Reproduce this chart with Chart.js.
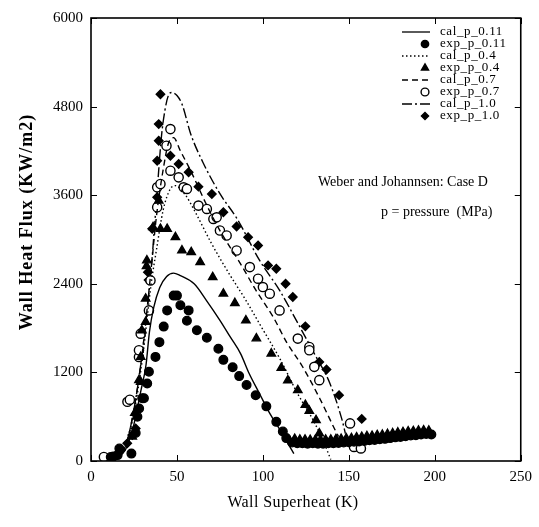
<!DOCTYPE html>
<html>
<head>
<meta charset="utf-8">
<script src="https://cdn.jsdelivr.net/npm/chart.js@4.4.1/dist/chart.umd.min.js"></script>
<style>
  html, body { margin: 0; padding: 0; background: #fff; }
  #wrap { width: 539px; height: 527px; }
</style>
</head>
<body>
<div id="wrap"><canvas id="chart" width="539" height="527"></canvas></div>
<script>
// Axis ticks
const xTicks = [0, 50, 100, 150, 200, 250];
const yTicks = [0, 1200, 2400, 3600, 4800, 6000];

// Calculated curves (wall superheat K, heat flux kW/m2)
const cal011X = [14, 20, 25, 29, 32, 34, 36.5, 40, 44, 48, 52, 60, 67, 75, 81, 87, 92, 98, 104, 110, 114.5, 118];
const cal011Y = [30, 150, 500, 950, 1300, 1750, 2080, 2350, 2500, 2545, 2510, 2400, 2180, 1905, 1680, 1455, 1185, 914, 644, 419, 239, 100];

const cal04X = [14, 20, 25, 30, 35, 38, 42, 46, 49, 55, 60, 70, 80, 90, 100, 110, 120, 130, 136, 139.5];
const cal04Y = [30, 200, 650, 1400, 2400, 2850, 3400, 3680, 3730, 3600, 3400, 2950, 2550, 2180, 1780, 1380, 920, 520, 220, 20];

const cal07X = [14, 20, 25, 30, 35, 38, 42, 45, 48, 52, 58, 67, 75, 87, 96, 106, 114, 123, 133, 142, 144];
const cal07Y = [30, 200, 700, 1500, 2600, 3300, 3950, 4300, 4380, 4200, 3930, 3480, 3120, 2670, 2310, 1950, 1600, 1280, 850, 420, 330];

const cal10X = [14, 20, 25, 30, 35, 38, 41, 43, 45, 47, 50, 53, 58, 65, 75, 85, 98, 110, 120, 130, 139, 146, 148];
const cal10Y = [30, 200, 700, 1500, 2600, 3500, 4400, 4750, 4950, 4990, 4950, 4830, 4430, 4050, 3620, 3280, 2720, 2300, 1880, 1450, 1050, 560, 370];

// Experimental points
const exp011X = [11.5, 13, 15.5, 16.5, 23.5, 26, 27, 28, 29.8, 30.8, 32.7, 33.7, 37.5, 39.8, 42.3, 44.3, 48.1, 50, 52, 55.8, 56.8, 61.6, 67.4, 74.1, 77, 82.4, 86.2, 90.5, 95.8, 102, 107.8, 111.6, 113.6,
  117, 120, 123, 126, 129, 132, 135, 138, 141, 144, 147, 150, 153, 156, 159, 162, 165, 168, 171, 174, 177, 180, 183, 186, 189, 192, 195, 198];
const exp011Y = [55, 60, 80, 170, 100, 380, 600, 710, 850, 850, 1050, 1210, 1410, 1610, 1820, 2040, 2240, 2240, 2110, 1900, 2040, 1770, 1670, 1520, 1370, 1270, 1150, 1030, 890, 740, 530, 400, 310,
  250, 240, 240, 235, 240, 235, 235, 240, 240, 245, 250, 255, 260, 265, 270, 280, 285, 295, 300, 310, 320, 325, 335, 345, 350, 360, 365, 360];

const exp04X = [24, 25.5, 27.9, 28.9, 28.9, 29.6, 31.8, 31.8, 32.3, 32.5, 36.1, 39.4, 40.4, 44.3, 49.1, 52.9, 58.3, 63.5, 70.8, 77, 83.7, 90.1, 96.2, 104.9, 110.7, 114.5, 120.3, 124.7, 127, 130.9, 132.8,
  118.5, 121.5, 124.5, 127.5, 130.5, 133.5, 136.5, 139.5, 142.5, 145.5, 148.5, 151.5, 154.5, 157.5, 160.5, 163.5, 166.5, 169.5, 172.5, 175.5, 178.5, 181.5, 184.5, 187.5, 190.5, 193.5, 196.5];
const exp04Y = [330, 650, 1095, 1072, 1410, 1770, 1883, 2198, 2640, 2716, 3166, 3527, 3144, 3144, 3031, 2851, 2829, 2694, 2491, 2266, 2139, 1905, 1660, 1455, 1260, 1090, 960, 760, 680, 554, 374,
  300, 290, 290, 285, 285, 285, 290, 290, 295, 300, 305, 310, 320, 325, 335, 340, 350, 355, 365, 375, 385, 390, 400, 405, 410, 415, 410];

const exp07X = [7.5, 21.2, 22.6, 27.9, 27.9, 28.9, 33.7, 34.6, 38.5, 38.5, 40.4, 43.9, 46.2, 46.2, 51, 53.9, 55.8, 62.5, 67.4, 71.2, 73.1, 75, 78.9, 84.7, 92.4, 97.2, 100, 104, 109.7, 120.3, 127, 127, 129.9, 132.8, 150.7, 153, 157];
const exp07Y = [54, 802, 830, 1410, 1500, 1725, 2040, 2446, 3437, 3707, 3752, 4270, 4495, 3932, 3842, 3707, 3685, 3459, 3414, 3279, 3301, 3122, 3054, 2851, 2626, 2469, 2356, 2266, 2040, 1658, 1545, 1500, 1275, 1095, 509, 190, 170];

const exp10X = [17.3, 21.1, 24, 26, 33.1, 33.5, 35.6, 38.5, 38.5, 39.4, 39.4, 40.4, 46.2, 51, 56.8, 62.5, 70.3, 77, 84.7, 91.4, 97.2, 103, 107.8, 113.2, 117.4, 124.7, 132.8, 137, 144.3, 157.5];
const exp10Y = [149, 239, 351, 441, 2558, 2450, 3144, 3572, 4067, 4338, 4563, 4968, 4135, 4022, 3910, 3716, 3617, 3369, 3176, 3031, 2919, 2649, 2604, 2401, 2221, 1824, 1342, 1239, 892, 570];

function pts(xs, ys) {
  return xs.map((x, i) => ({ x: x, y: ys[i] }));
}

const FONT = "'Liberation Serif', 'DejaVu Serif', serif";

function calSet(label, xs, ys, dash) {
  return {
    label: label,
    data: pts(xs, ys),
    showLine: true,
    borderColor: '#000',
    borderWidth: 1.4,
    borderDash: dash,
    pointRadius: 0,
    cubicInterpolationMode: 'monotone',
    fill: false
  };
}

function expSet(label, xs, ys, style, radius, fillColor) {
  return {
    label: label,
    data: pts(xs, ys),
    showLine: false,
    pointStyle: style,
    pointRadius: radius,
    pointBorderColor: '#000',
    pointBackgroundColor: fillColor,
    pointBorderWidth: 1.4
  };
}

const datasets = [
  calSet('cal_p_0.11', cal011X, cal011Y, []),
  expSet('exp_p_0.11', exp011X, exp011Y, 'circle', 4.3, '#000'),
  calSet('cal_p_0.4', cal04X, cal04Y, [1.5, 2.5]),
  expSet('exp_p_0.4', exp04X, exp04Y, 'triangle', 4.8, '#000'),
  calSet('cal_p_0.7', cal07X, cal07Y, [6, 4]),
  expSet('exp_p_0.7', exp07X, exp07Y, 'circle', 4.6, '#fff'),
  calSet('cal_p_1.0', cal10X, cal10Y, [10, 3, 2, 3]),
  expSet('exp_p_1.0', exp10X, exp10Y, 'rectRot', 4.2, '#000')
];

// Frame, inward ticks, legend and captions
const decorPlugin = {
  id: 'decor',
  afterDraw(chart) {
    const ctx = chart.ctx;
    const a = chart.chartArea;
    const xs = chart.scales.x;
    const ys = chart.scales.y;
    ctx.save();
    ctx.strokeStyle = '#000';
    ctx.lineWidth = 1.6;
    ctx.setLineDash([]);
    ctx.strokeRect(a.left, a.top, a.right - a.left, a.bottom - a.top);

    ctx.lineWidth = 1;
    ctx.beginPath();
    xTicks.forEach(v => {
      const px = Math.round(xs.getPixelForValue(v)) + 0.5;
      ctx.moveTo(px, a.bottom); ctx.lineTo(px, a.bottom - 6);
      ctx.moveTo(px, a.top); ctx.lineTo(px, a.top + 6);
    });
    yTicks.forEach(v => {
      const py = Math.round(ys.getPixelForValue(v)) + 0.5;
      ctx.moveTo(a.left, py); ctx.lineTo(a.left + 6, py);
      ctx.moveTo(a.right, py); ctx.lineTo(a.right - 6, py);
    });
    ctx.stroke();

    // legend
    ctx.font = '13px ' + FONT;
    ctx.letterSpacing = '0.6px';
    ctx.fillStyle = '#000';
    ctx.textAlign = 'left';
    ctx.textBaseline = 'middle';
    chart.data.datasets.forEach((ds, i) => {
      const ry = 32 + i * 12;
      if (ds.showLine) {
        ctx.save();
        ctx.lineWidth = 1.3;
        ctx.setLineDash(ds.borderDash);
        ctx.beginPath();
        ctx.moveTo(402, ry); ctx.lineTo(430, ry);
        ctx.stroke();
        ctx.restore();
      } else {
        ctx.save();
        ctx.fillStyle = ds.pointBackgroundColor;
        ctx.strokeStyle = '#000';
        ctx.lineWidth = 1.4;
        Chart.helpers.drawPoint(ctx, { pointStyle: ds.pointStyle, radius: ds.pointRadius * 0.85, rotation: 0, borderWidth: 1.4 }, 425, ry);
        ctx.restore();
      }
      ctx.fillText(ds.label, 440, ry);
    });

    ctx.letterSpacing = '0px';
    ctx.font = '14px ' + FONT;
    ctx.fillText('Weber and Johannsen: Case D', 318, 182);
    ctx.fillText('p = pressure  (MPa)', 381, 212);

    // axis titles
    ctx.textAlign = 'center';
    ctx.font = '16px ' + FONT;
    ctx.letterSpacing = '0.4px';
    ctx.fillText('Wall Superheat (K)', 293, 503);
    ctx.save();
    ctx.translate(27, 222);
    ctx.rotate(-Math.PI / 2);
    ctx.font = 'bold 18px ' + FONT;
    ctx.letterSpacing = '1px';
    ctx.fillText('Wall Heat Flux (KW/m2)', 0, 0);
    ctx.restore();
    ctx.restore();
  }
};

new Chart(document.getElementById('chart').getContext('2d'), {
  type: 'scatter',
  data: { datasets: datasets },
  options: {
    responsive: false,
    animation: false,
    devicePixelRatio: 1,
    layout: { padding: { top: 18, right: 16, left: 0, bottom: 0 } },
    plugins: {
      legend: { display: false },
      tooltip: { enabled: false }
    },
    scales: {
      x: {
        type: 'linear',
        min: 0,
        max: 250,
        grid: { display: false, drawTicks: false },
        border: { display: false },
        afterBuildTicks: s => { s.ticks = xTicks.map(v => ({ value: v })); },
        afterFit: s => { s.height = 66; },
        ticks: { color: '#000', padding: 7, font: { family: FONT, size: 15 }, callback: v => String(v) }
      },
      y: {
        type: 'linear',
        min: 0,
        max: 6000,
        grid: { display: false, drawTicks: false },
        border: { display: false },
        afterBuildTicks: s => { s.ticks = yTicks.map(v => ({ value: v })); },
        afterFit: s => { s.width = 91; },
        ticks: { color: '#000', padding: 8, font: { family: FONT, size: 15 }, callback: v => String(v) }
      }
    }
  },
  plugins: [decorPlugin]
});
</script>
</body>
</html>
